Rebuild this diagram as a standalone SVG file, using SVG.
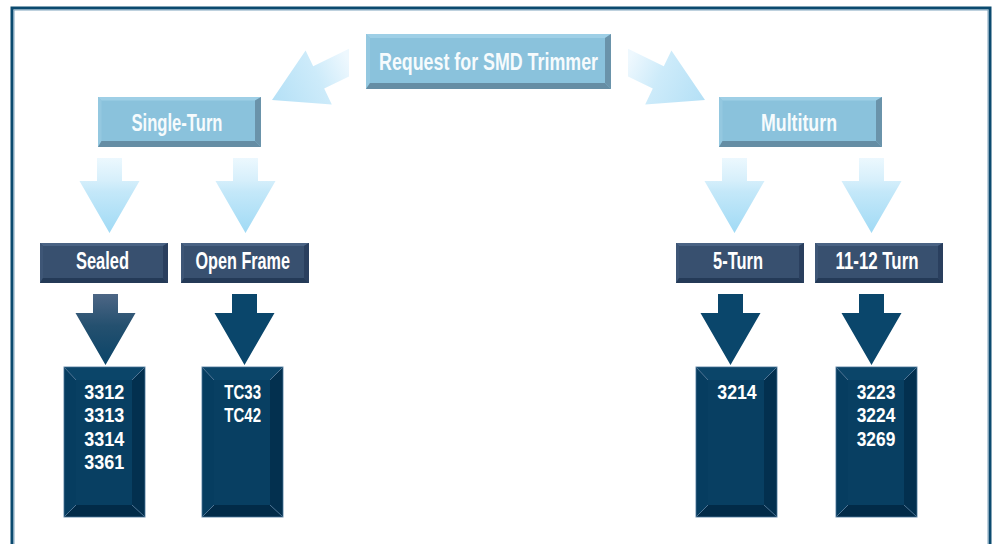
<svg xmlns="http://www.w3.org/2000/svg" width="996" height="544" viewBox="0 0 996 544">
<defs>
<linearGradient id="gv" x1="0" y1="0" x2="0" y2="1">
<stop offset="0" stop-color="#ecf8fe"/>
<stop offset="0.3" stop-color="#d6effb"/>
<stop offset="0.45" stop-color="#c4e8f9"/>
<stop offset="1" stop-color="#a0daf5"/>
</linearGradient>
<linearGradient id="gl" gradientUnits="userSpaceOnUse" x1="349" y1="62" x2="272" y2="100">
<stop offset="0" stop-color="#eef8fe"/>
<stop offset="0.4" stop-color="#cdebfa"/>
<stop offset="1" stop-color="#b4e0f6"/>
</linearGradient>
<linearGradient id="gr" gradientUnits="userSpaceOnUse" x1="628" y1="62" x2="705" y2="100">
<stop offset="0" stop-color="#eef8fe"/>
<stop offset="0.4" stop-color="#cdebfa"/>
<stop offset="1" stop-color="#b4e0f6"/>
</linearGradient>
<linearGradient id="gd" x1="0" y1="0" x2="0" y2="1">
<stop offset="0" stop-color="#4d6685"/>
<stop offset="0.45" stop-color="#24506f"/>
<stop offset="1" stop-color="#0a4468"/>
</linearGradient>
</defs>
<style>
.t{font-family:"Liberation Sans",Arial,sans-serif;font-weight:bold;font-size:23px;fill:#ffffff}
.m{font-size:21px}
.lt{fill:#f6fbfd}
.lb{fill:#8ac2dc}
.lbt{fill:#9ecfe6}
.lbl{fill:#94c8e0}
.lbr{fill:#6a93aa}
.lbb{fill:#658da4}
.db{fill:#38506f}
.dbt{fill:#4a6384}
.dbl{fill:#3e5676}
.dbr{fill:#2a3f5e}
.dbb{fill:#243a57}
.tb{fill:#083f62;stroke:#6d8fae;stroke-width:1}
.tbt{fill:#0b4569}
.tbl{fill:#063d60}
.tbr{fill:#03304f}
.tbb{fill:#022b48}
.tbd{stroke:#4f7494;stroke-width:1;fill:none}
.av{fill:url(#gv)}
.ad{fill:#0a466b}
</style>
<rect x="0" y="0" width="996" height="544" fill="#ffffff"/>
<rect x="12" y="8" width="978" height="600" fill="none" stroke="#0b4a6f" stroke-width="3"/>
<rect x="14" y="10" width="974" height="600" fill="none" stroke="#7ea3bd" stroke-width="1"/>

<g id="connectors">
<polygon points="349,48.8 313.2,66.2 305.6,50.4 272,100 331.8,104.4 324.2,88.6 349,76.5" fill="url(#gl)"/>
<polygon points="628,48.8 663.8,66.2 671.4,50.4 705,100 645.2,104.4 652.8,88.6 628,76.5" fill="url(#gr)"/>
<polygon class="av" points="97,158 122,158 122,181 139.5,181 109.5,233 79.5,181 97,181"/>
<polygon class="av" points="233,158 258,158 258,181 275.5,181 245.5,233 215.5,181 233,181"/>
<polygon class="av" points="722,158 747,158 747,181 764.5,181 734.5,233 704.5,181 722,181"/>
<polygon class="av" points="859,158 884,158 884,181 901.5,181 871.5,233 841.5,181 859,181"/>
<polygon fill="url(#gd)" points="93,294 118,294 118,313 135.5,313 105.5,365 75.5,313 93,313"/>
<polygon class="ad" points="232,294 257,294 257,313 274.5,313 244.5,365 214.5,313 232,313"/>
<polygon class="ad" points="718,294 743,294 743,313 760.5,313 730.5,365 700.5,313 718,313"/>
<polygon class="ad" points="859,294 884,294 884,313 901.5,313 871.5,365 841.5,313 859,313"/>
</g>

<g id="request">
<rect class="lb" x="366" y="34" width="245" height="55"/>
<polygon class="lbt" points="366,34 611,34 605,38 370,38"/>
<polygon class="lbl" points="366,34 370,38 370,83 366,89"/>
<polygon class="lbr" points="611,34 611,89 605,83 605,38"/>
<polygon class="lbb" points="366,89 611,89 605,83 370,83"/>
<text class="t lt" x="379" y="70" textLength="219" lengthAdjust="spacingAndGlyphs">Request for SMD Trimmer</text>
</g>

<g id="single-turn">
<rect class="lb" x="98" y="97" width="163" height="50"/>
<polygon class="lbt" points="98,97 261,97 255,100.5 101.5,100.5"/>
<polygon class="lbl" points="98,97 101.5,100.5 101.5,141 98,147"/>
<polygon class="lbr" points="261,97 261,147 255,141 255,100.5"/>
<polygon class="lbb" points="98,147 261,147 255,141 101.5,141"/>
<text class="t lt" x="131.5" y="130.5" textLength="91" lengthAdjust="spacingAndGlyphs">Single-Turn</text>
</g>

<g id="multiturn">
<rect class="lb" x="719" y="97" width="163" height="50"/>
<polygon class="lbt" points="719,97 882,97 876,100.5 722.5,100.5"/>
<polygon class="lbl" points="719,97 722.5,100.5 722.5,141 719,147"/>
<polygon class="lbr" points="882,97 882,147 876,141 876,100.5"/>
<polygon class="lbb" points="719,147 882,147 876,141 722.5,141"/>
<text class="t lt" x="761" y="130.5" textLength="76" lengthAdjust="spacingAndGlyphs">Multiturn</text>
</g>

<g id="sealed">
<rect class="db" x="40" y="243" width="128" height="40"/>
<polygon class="dbt" points="40,243 168,243 163,246 43,246"/>
<polygon class="dbl" points="40,243 43,246 43,278 40,283"/>
<polygon class="dbr" points="168,243 168,283 163,278 163,246"/>
<polygon class="dbb" points="40,283 168,283 163,278 43,278"/>
<text class="t" x="76" y="269" textLength="53" lengthAdjust="spacingAndGlyphs">Sealed</text>
</g>

<g id="open-frame">
<rect class="db" x="181" y="243" width="128" height="40"/>
<polygon class="dbt" points="181,243 309,243 304,246 184,246"/>
<polygon class="dbl" points="181,243 184,246 184,278 181,283"/>
<polygon class="dbr" points="309,243 309,283 304,278 304,246"/>
<polygon class="dbb" points="181,283 309,283 304,278 184,278"/>
<text class="t" x="195.5" y="269" textLength="94.5" lengthAdjust="spacingAndGlyphs">Open Frame</text>
</g>

<g id="five-turn">
<rect class="db" x="676" y="243" width="128" height="40"/>
<polygon class="dbt" points="676,243 804,243 799,246 679,246"/>
<polygon class="dbl" points="676,243 679,246 679,278 676,283"/>
<polygon class="dbr" points="804,243 804,283 799,278 799,246"/>
<polygon class="dbb" points="676,283 804,283 799,278 679,278"/>
<text class="t" x="713" y="269" textLength="50" lengthAdjust="spacingAndGlyphs">5-Turn</text>
</g>

<g id="eleven-twelve-turn">
<rect class="db" x="815" y="243" width="128" height="40"/>
<polygon class="dbt" points="815,243 943,243 938,246 818,246"/>
<polygon class="dbl" points="815,243 818,246 818,278 815,283"/>
<polygon class="dbr" points="943,243 943,283 938,278 938,246"/>
<polygon class="dbb" points="815,283 943,283 938,278 818,278"/>
<text class="t" x="835.5" y="269" textLength="83" lengthAdjust="spacingAndGlyphs">11-12 Turn</text>
</g>

<g id="sealed-models">
<rect class="tb" x="64" y="367" width="81" height="150"/>
<polygon class="tbt" points="64.5,367.5 144.5,367.5 132,380 76,380"/>
<polygon class="tbl" points="64.5,367.5 76,380 76,505 64.5,516.5"/>
<polygon class="tbr" points="144.5,367.5 144.5,516.5 132,505 132,380"/>
<polygon class="tbb" points="64.5,516.5 144.5,516.5 132,505 76,505"/>
<path class="tbd" d="M64.5,367.5 L76,380 M144.5,367.5 L132,380 M64.5,516.5 L76,505 M144.5,516.5 L132,505"/>
<text class="t m" x="84.3" y="399" textLength="40" lengthAdjust="spacingAndGlyphs">3312</text>
<text class="t m" x="84.3" y="422.4" textLength="40" lengthAdjust="spacingAndGlyphs">3313</text>
<text class="t m" x="84.3" y="445.8" textLength="40" lengthAdjust="spacingAndGlyphs">3314</text>
<text class="t m" x="84.3" y="469.2" textLength="40" lengthAdjust="spacingAndGlyphs">3361</text>
</g>

<g id="open-frame-models">
<rect class="tb" x="202" y="367" width="81" height="150"/>
<polygon class="tbt" points="202.5,367.5 282.5,367.5 270,380 214,380"/>
<polygon class="tbl" points="202.5,367.5 214,380 214,505 202.5,516.5"/>
<polygon class="tbr" points="282.5,367.5 282.5,516.5 270,505 270,380"/>
<polygon class="tbb" points="202.5,516.5 282.5,516.5 270,505 214,505"/>
<path class="tbd" d="M202.5,367.5 L214,380 M282.5,367.5 L270,380 M202.5,516.5 L214,505 M282.5,516.5 L270,505"/>
<text class="t m" x="224.3" y="399" textLength="36.7" lengthAdjust="spacingAndGlyphs">TC33</text>
<text class="t m" x="224.3" y="422.4" textLength="36.7" lengthAdjust="spacingAndGlyphs">TC42</text>
</g>

<g id="five-turn-models">
<rect class="tb" x="696" y="367" width="81" height="150"/>
<polygon class="tbt" points="696.5,367.5 776.5,367.5 764,380 708,380"/>
<polygon class="tbl" points="696.5,367.5 708,380 708,505 696.5,516.5"/>
<polygon class="tbr" points="776.5,367.5 776.5,516.5 764,505 764,380"/>
<polygon class="tbb" points="696.5,516.5 776.5,516.5 764,505 708,505"/>
<path class="tbd" d="M696.5,367.5 L708,380 M776.5,367.5 L764,380 M696.5,516.5 L708,505 M776.5,516.5 L764,505"/>
<text class="t m" x="717.3" y="399" textLength="39.4" lengthAdjust="spacingAndGlyphs">3214</text>
</g>

<g id="eleven-twelve-turn-models">
<rect class="tb" x="836" y="367" width="81" height="150"/>
<polygon class="tbt" points="836.5,367.5 916.5,367.5 904,380 848,380"/>
<polygon class="tbl" points="836.5,367.5 848,380 848,505 836.5,516.5"/>
<polygon class="tbr" points="916.5,367.5 916.5,516.5 904,505 904,380"/>
<polygon class="tbb" points="836.5,516.5 916.5,516.5 904,505 848,505"/>
<path class="tbd" d="M836.5,367.5 L848,380 M916.5,367.5 L904,380 M836.5,516.5 L848,505 M916.5,516.5 L904,505"/>
<text class="t m" x="856.7" y="399" textLength="38.6" lengthAdjust="spacingAndGlyphs">3223</text>
<text class="t m" x="856.7" y="422.4" textLength="38.6" lengthAdjust="spacingAndGlyphs">3224</text>
<text class="t m" x="856.7" y="445.8" textLength="38.6" lengthAdjust="spacingAndGlyphs">3269</text>
</g>
</svg>
